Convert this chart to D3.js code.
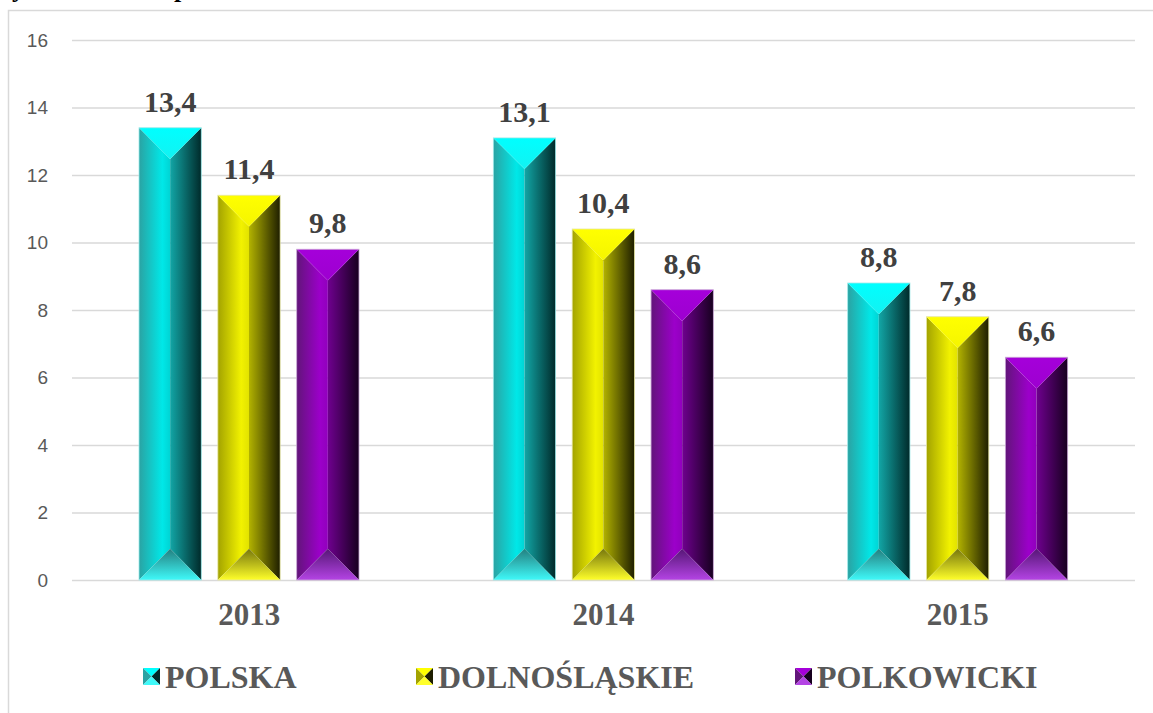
<!DOCTYPE html>
<html>
<head>
<meta charset="utf-8">
<script src="https://cdn.jsdelivr.net/npm/d3@7"></script>
<style>
  html, body { margin: 0; padding: 0; background: #fff; }
  svg { display: block; }
  .y-axis text { font-family: "Liberation Sans", Arial, sans-serif; font-size: 19px; fill: #595959; }
  .y-axis line { stroke: #d9d9d9; stroke-width: 1.3; }
  .x-axis text { font-family: "Liberation Serif", "Times New Roman", serif; font-weight: bold; font-size: 31px; fill: #595959; }
  .value-label { font-family: "Liberation Serif", "Times New Roman", serif; font-weight: bold; font-size: 30px; fill: #404040; }
  .legend-label { font-family: "Liberation Serif", "Times New Roman", serif; font-weight: bold; font-size: 32px; fill: #595959; }
</style>
</head>
<body>
<svg id="chart" width="1153" height="713"></svg>
<script>
/* Bar chart with bevelled bars: POLSKA / DOLNOŚLĄSKIE / POLKOWICKI */

const YEARS = ["2013", "2014", "2015"];
const SERIES = ["POLSKA", "DOLNOŚLĄSKIE", "POLKOWICKI"];
const POLSKA = [13.4, 13.1, 8.8];
const DOLNOSLASKIE = [11.4, 10.4, 7.8];
const POLKOWICKI = [9.8, 8.6, 6.6];
const Y_TICKS = [0, 2, 4, 6, 8, 10, 12, 14, 16];

const VALUES = [POLSKA, DOLNOSLASKIE, POLKOWICKI];

// colour sets for each series: left face, right face, top cap, bottom cap
const PALETTE = [
  { left: ["#2aa3a3", "#00e8e8", "#00d4d4"], right: ["#12a6a6", "#002a2a"], top: ["#00ffff", "#12f2f2"], bottom: ["#237f7f", "#3ff9f9"], edge: "#9fe9e9" },
  { left: ["#a3a300", "#f2f200", "#e2e200"], right: ["#b3b300", "#1e1e00"], top: ["#ffff00", "#f5f500"], bottom: ["#76760c", "#ffff2a"], edge: "#e6e6a0" },
  { left: ["#62157a", "#9c00ca", "#9100bd"], right: ["#6f008f", "#17001f"], top: ["#a500da", "#9d00d0"], bottom: ["#561676", "#b444e4"], edge: "#c9a6d6" },
];

const W = 1153, H = 713;
const plotLeft = 72, plotRight = 1135, plotTop = 40, plotBottom = 580;

const svg = d3.select("#chart");
const defs = svg.append("defs");

function addGrad(id, stops, vertical) {
  const g = defs.append("linearGradient").attr("id", id)
    .attr("x1", 0).attr("y1", 0)
    .attr("x2", vertical ? 0 : 1).attr("y2", vertical ? 1 : 0);
  stops.forEach((c, i) => {
    g.append("stop").attr("offset", stops.length === 3 ? [0, 0.75, 1][i] : i / (stops.length - 1)).attr("stop-color", c);
  });
}

PALETTE.forEach((p, i) => {
  addGrad(`left-${i}`, p.left, false);
  addGrad(`right-${i}`, p.right, false);
  addGrad(`top-${i}`, p.top, true);
  addGrad(`bottom-${i}`, p.bottom, true);
});

// chart frame (only top + left borders are visible)
svg.append("path")
  .attr("d", `M8.5,${H} V10.5 H${W}`)
  .attr("fill", "none")
  .attr("stroke", "#d9d9d9")
  .attr("stroke-width", 1.5);

// title, mostly cut off above the picture (as in the original)
svg.append("text").attr("x", 12).attr("y", -3)
  .attr("font-family", "Liberation Serif, serif").attr("font-weight", "bold")
  .attr("font-size", 26).attr("fill", "#000").text("y");
svg.append("text").attr("x", 174).attr("y", -3)
  .attr("font-family", "Liberation Serif, serif").attr("font-weight", "bold")
  .attr("font-size", 26).attr("fill", "#000").text("p");

const y = d3.scaleLinear().domain([0, 16]).range([plotBottom, plotTop]);
const x0 = d3.scaleBand().domain(YEARS).range([plotLeft, plotRight]);
const x1 = d3.scaleBand().domain(SERIES).range([67, 287]).paddingInner(0.21);

// y axis + gridlines
const yAxis = svg.append("g")
  .attr("class", "y-axis")
  .attr("transform", `translate(${plotLeft},0)`)
  .call(d3.axisLeft(y).tickValues(Y_TICKS).tickSize(-(plotRight - plotLeft)).tickPadding(24).tickFormat(d3.format("d")));
yAxis.select(".domain").remove();

// bars
const bw = x1.bandwidth();
const d = bw / 2;

YEARS.forEach((yr, gi) => {
  SERIES.forEach((s, si) => {
    const v = VALUES[si][gi];
    const xl = x0(yr) + x1(s);
    const xr = xl + bw;
    const cx = xl + bw / 2;
    const top = y(v);
    const bot = y(0);
    const g = svg.append("g").attr("class", "bar");
    const pts = (arr) => arr.map(p => p.join(",")).join(" ");

    g.append("polygon").attr("points", pts([[xl, top], [cx, top + d], [cx, bot - d], [xl, bot]]))
      .attr("fill", `url(#left-${si})`);
    g.append("polygon").attr("points", pts([[xr, top], [cx, top + d], [cx, bot - d], [xr, bot]]))
      .attr("fill", `url(#right-${si})`);
    g.append("polygon").attr("points", pts([[xl, top], [xr, top], [cx, top + d]]))
      .attr("fill", `url(#top-${si})`);
    g.append("polygon").attr("points", pts([[xl, bot], [xr, bot], [cx, bot - d]]))
      .attr("fill", `url(#bottom-${si})`);
    g.append("rect").attr("x", xl).attr("y", top).attr("width", bw).attr("height", bot - top)
      .attr("fill", "none").attr("stroke", PALETTE[si].edge).attr("stroke-width", 0.8);

    svg.append("text")
      .attr("class", "value-label")
      .attr("x", cx)
      .attr("y", top - 16)
      .attr("text-anchor", "middle")
      .text(String(v).replace(".", ","));
  });
});

// x axis labels
const xAxis = svg.append("g")
  .attr("class", "x-axis")
  .attr("transform", `translate(0,${plotBottom})`)
  .call(d3.axisBottom(x0).tickSize(0).tickPadding(0));
xAxis.select(".domain").remove();
xAxis.selectAll("text").attr("dy", null).attr("y", 45);

// legend
const LEGEND_X = [143, 416, 795];
SERIES.forEach((s, si) => {
  const p = PALETTE[si];
  const lx = LEGEND_X[si], ly = 668, sz = 17;
  const c = [lx + sz / 2, ly + sz / 2];
  const g = svg.append("g").attr("class", "legend-item");
  const tri = (a, b, col) => g.append("polygon")
    .attr("points", [a, b, c].map(q => q.join(",")).join(" ")).attr("fill", col);
  tri([lx, ly], [lx + sz, ly], p.top[0]);
  tri([lx, ly], [lx, ly + sz], p.left[0]);
  tri([lx + sz, ly], [lx + sz, ly + sz], p.right[1]);
  tri([lx, ly + sz], [lx + sz, ly + sz], p.bottom[1]);
  svg.append("text").attr("class", "legend-label")
    .attr("x", lx + sz + 5).attr("y", 688).text(s);
});
</script>
</body>
</html>
